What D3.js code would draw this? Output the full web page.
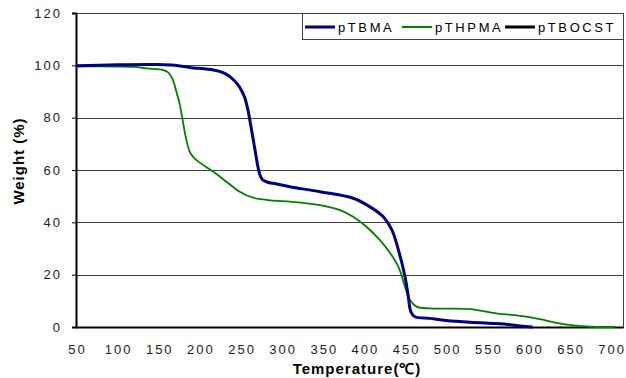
<!DOCTYPE html>
<html>
<head>
<meta charset="utf-8">
<script src="https://cdn.jsdelivr.net/npm/d3@7"></script>
<style>
  html, body { margin: 0; padding: 0; background: #fff; }
  svg { display: block; font-family: "Liberation Sans", Arial, sans-serif; }
</style>
</head>
<body>
<svg id="chart" width="626" height="378"></svg>
<script>
// TGA curves: temperature (°C) vs residual weight (%)
const seriesNames = ["pTBMA", "pTHPMA", "pTBOCST"];
const seriesColors = ["#000080", "#008000", "#000000"];
const seriesWidths = [3, 1.8, 3];

const tbmaTemp   = [50, 100, 150, 170, 188.6, 217, 228, 236, 242, 247, 251, 255, 259, 262.5, 265.5, 268.5, 271.6, 274, 277, 283, 290, 310, 346.6, 387, 407, 423.6, 434, 442, 450, 454, 457, 462, 480, 500, 529, 560, 575, 590, 605];
const tbmaWeight = [99.8, 100.2, 100.3, 100, 99.2, 98.2, 97.3, 95.9, 94.3, 92.5, 90.5, 87.8, 83, 77, 71.5, 66, 60.6, 57.8, 56.2, 55.3, 54.9, 53.6, 51.7, 49.2, 46, 42.1, 37.1, 29.4, 19.2, 11.6, 5.9, 3.9, 3.3, 2.5, 1.8, 1.3, 1.0, 0.4, 0];

const thpmaTemp   = [50, 120, 136, 156, 162, 167, 172, 176.5, 180, 183.5, 188.6, 193, 198.7, 217, 233, 249, 265.5, 290, 310, 346.6, 371, 387, 403, 419.5, 432, 442, 450, 456, 464, 480, 500, 529, 565, 581, 614, 634, 655, 675, 705];
const thpmaWeight = [99.6, 99.4, 98.8, 98.2, 97.3, 95, 90, 84.5, 78.5, 72.5, 66.7, 64.8, 63.2, 59.3, 55.5, 51.7, 49.4, 48.3, 47.9, 46.6, 44.7, 42.1, 38.3, 33.2, 28.2, 23, 15.4, 10.3, 7.8, 7.1, 7.0, 6.8, 5.0, 4.6, 3.0, 1.6, 0.6, 0.1, 0];

// pTBOCST appears in the legend only
const tbocstTemp = [];
const tbocstWeight = [];

const xTicks = [50, 100, 150, 200, 250, 300, 350, 400, 450, 500, 550, 600, 650, 700];
const yTicks = [0, 20, 40, 60, 80, 100, 120];

const svg = d3.select("#chart");
const plotLeft = 76, plotRight = 623, plotTop = 13, plotBottom = 327;

const x = d3.scaleLinear().domain([50, 715]).range([plotLeft, plotRight]);
const y = d3.scaleLinear().domain([0, 120]).range([plotBottom, plotTop]);

// horizontal gridlines
svg.append("g").selectAll("line")
  .data(yTicks.filter(d => d > 0 && d < 120))
  .join("line")
  .attr("x1", plotLeft).attr("x2", plotRight)
  .attr("y1", d => Math.round(y(d)) + 0.5).attr("y2", d => Math.round(y(d)) + 0.5)
  .attr("stroke", "#404040").attr("stroke-width", 1);

// plot frame
svg.append("rect")
  .attr("x", plotLeft + 0.5).attr("y", plotTop + 0.5)
  .attr("width", plotRight - plotLeft).attr("height", plotBottom - plotTop)
  .attr("fill", "none").attr("stroke", "#404040").attr("stroke-width", 1);

// y axis
const yAxis = svg.append("g")
  .attr("transform", `translate(${plotLeft},0)`)
  .call(d3.axisLeft(y).tickValues(yTicks).tickSize(4).tickPadding(12).tickFormat(d3.format("d")));
yAxis.select(".domain").attr("stroke", "#000").attr("stroke-width", 2);
yAxis.selectAll(".tick line").attr("stroke", "#000");
yAxis.selectAll("text")
  .attr("font-size", 13).attr("fill", "#222")
  .style("letter-spacing", "2px")
  .attr("dx", "2px")
  .attr("font-family", "'Liberation Sans', Arial, sans-serif");

// x axis
const xAxis = svg.append("g")
  .attr("transform", `translate(0,${plotBottom})`)
  .call(d3.axisBottom(x).tickValues(xTicks).tickSize(0).tickPadding(18).tickFormat(d3.format("d")));
xAxis.select(".domain").attr("stroke", "#000").attr("stroke-width", 2);
xAxis.selectAll("text")
  .attr("font-size", 13).attr("fill", "#222")
  .style("letter-spacing", "2px")
  .attr("dx", "1px")
  .attr("font-family", "'Liberation Sans', Arial, sans-serif");

// curves
const datasets = [
  { t: tbmaTemp, w: tbmaWeight },
  { t: thpmaTemp, w: thpmaWeight },
  { t: tbocstTemp, w: tbocstWeight }
];
const line = d3.line()
  .x(d => x(d[0]))
  .y(d => y(d[1]))
  .curve(d3.curveCatmullRom.alpha(0.5));

// draw green under blue
[1, 0, 2].forEach(i => {
  const pts = datasets[i].t.map((t, k) => [t, datasets[i].w[k]]);
  if (!pts.length) return;
  svg.append("path")
    .datum(pts)
    .attr("d", line)
    .attr("fill", "none")
    .attr("stroke", seriesColors[i])
    .attr("stroke-width", seriesWidths[i])
    .attr("stroke-linejoin", "round");
});

// legend
const legend = svg.append("g");
legend.append("rect")
  .attr("x", 302.5).attr("y", 13.5).attr("width", 321).attr("height", 26)
  .attr("fill", "#fff").attr("stroke", "#404040").attr("stroke-width", 1);
const legendX = [305, 402, 505];
seriesNames.forEach((name, i) => {
  legend.append("line")
    .attr("x1", legendX[i]).attr("x2", legendX[i] + 30)
    .attr("y1", 27).attr("y2", 27)
    .attr("stroke", seriesColors[i]).attr("stroke-width", seriesWidths[i] === 3 ? 3 : 2);
  legend.append("text")
    .attr("x", legendX[i] + 33).attr("y", 31.5)
    .attr("font-size", 13).attr("fill", "#000")
    .style("letter-spacing", "2.6px")
    .text(name);
});

// axis titles
svg.append("text")
  .attr("transform", "translate(24,161) rotate(-90)")
  .attr("text-anchor", "middle")
  .attr("font-size", 15).attr("font-weight", "bold")
  .style("letter-spacing", "1px")
  .text("Weight (%)");

svg.append("text")
  .attr("x", 357).attr("y", 374)
  .attr("text-anchor", "middle")
  .attr("font-size", 15).attr("font-weight", "bold")
  .style("letter-spacing", "1px")
  .text("Temperature(℃)");
</script>
</body>
</html>
